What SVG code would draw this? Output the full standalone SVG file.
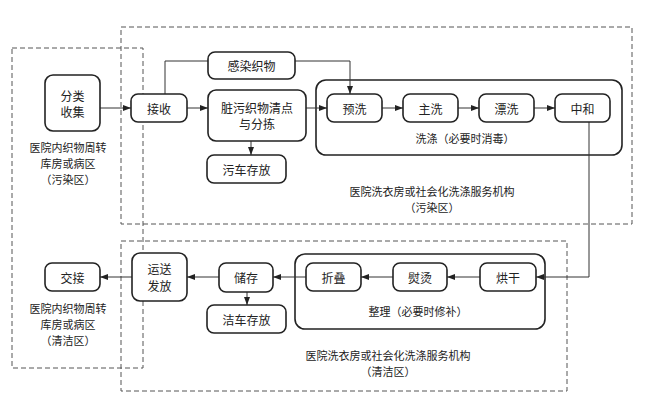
<svg xmlns="http://www.w3.org/2000/svg" width="671" height="420" viewBox="0 0 671 420">
<style>
  .zone{fill:none;stroke:#555;stroke-width:1;stroke-dasharray:5,3}
  .node{fill:#fff;stroke:#222;stroke-width:1.6}
  .grp{fill:none;stroke:#222;stroke-width:1.6}
  .t{font-family:"Noto Sans CJK SC","Noto Sans CJK TC",sans-serif;font-size:11px;fill:#222;text-anchor:middle;dominant-baseline:central}
  .n{font-size:12px}
  .c{fill:none;stroke:#333;stroke-width:1}
</style>
<defs>
  <marker id="ah" viewBox="0 0 8 6" refX="8" refY="3" markerWidth="8" markerHeight="6" markerUnits="userSpaceOnUse" orient="auto">
    <path d="M0,0 L8,3 L0,6 Z" fill="#222"/>
  </marker>
</defs>
<rect width="671" height="420" fill="#fff"/>

<g id="zones">
  <rect class="zone" x="12" y="48" width="131" height="320"/>
  <rect class="zone" x="121" y="27" width="511" height="197"/>
  <rect class="zone" x="121" y="241" width="446" height="150"/>
  <text class="t" x="68" y="147">医院内织物周转</text>
  <text class="t" x="68" y="163">库房或病区</text>
  <text class="t" x="68" y="179">（污染区）</text>
  <text class="t" x="68" y="308">医院内织物周转</text>
  <text class="t" x="68" y="324">库房或病区</text>
  <text class="t" x="68" y="340">（清洁区）</text>
  <text class="t" x="432" y="191">医院洗衣房或社会化洗涤服务机构</text>
  <text class="t" x="432" y="207">（污染区）</text>
  <text class="t" x="388" y="355">医院洗衣房或社会化洗涤服务机构</text>
  <text class="t" x="388" y="371">（清洁区）</text>
</g>

<g id="wash">
  <rect class="grp" x="316" y="80" width="306" height="75" rx="10"/>
  <text class="t" x="465" y="138">洗涤（必要时消毒）</text>
</g>
<g id="finish">
  <rect class="grp" x="295" y="254" width="250" height="75" rx="10"/>
  <text class="t" x="418" y="311">整理（必要时修补）</text>
</g>

<g id="connectors">
  <path class="c" d="M100,108 H131" marker-end="url(#ah)"/>
  <path class="c" d="M187,108 H208" marker-end="url(#ah)"/>
  <path class="c" d="M165,94 V61 H208"/>
  <path class="c" d="M295,61 H350 V94" marker-end="url(#ah)"/>
  <path class="c" d="M306,108 H327" marker-end="url(#ah)"/>
  <path class="c" d="M382,108 H403" marker-end="url(#ah)"/>
  <path class="c" d="M458,108 H479" marker-end="url(#ah)"/>
  <path class="c" d="M534,108 H555" marker-end="url(#ah)"/>
  <path class="c" d="M251,141 V155" marker-end="url(#ah)"/>
  <path class="c" d="M589,122 V277 H536" marker-end="url(#ah)"/>
  <path class="c" d="M480,277 H447" marker-end="url(#ah)"/>
  <path class="c" d="M393,277 H361" marker-end="url(#ah)"/>
  <path class="c" d="M306,277 H273" marker-end="url(#ah)"/>
  <path class="c" d="M219,277 H187" marker-end="url(#ah)"/>
  <path class="c" d="M132,277 H100" marker-end="url(#ah)"/>
  <path class="c" d="M247,292 V305" marker-end="url(#ah)"/>
</g>

<g id="n-fenlei"><rect class="node" x="45" y="75" width="55" height="56" rx="8"/><text class="t n" x="72.5" y="95">分类</text><text class="t n" x="72.5" y="111">收集</text></g>
<g id="n-jieshou"><rect class="node" x="131" y="94" width="56" height="28" rx="7"/><text class="t n" x="159" y="108">接收</text></g>
<g id="n-ganran"><rect class="node" x="208" y="52" width="87" height="27" rx="7"/><text class="t n" x="251.5" y="65.5">感染织物</text></g>
<g id="n-zangwu"><rect class="node" x="208" y="90" width="98" height="51" rx="8"/><text class="t n" x="257" y="107">脏污织物清点</text><text class="t n" x="257" y="123">与分拣</text></g>
<g id="n-wuche"><rect class="node" x="207" y="155" width="79" height="28" rx="7"/><text class="t n" x="246.5" y="169">污车存放</text></g>
<g id="n-yuxi"><rect class="node" x="327" y="94" width="55" height="28" rx="7"/><text class="t n" x="354.5" y="108">预洗</text></g>
<g id="n-zhuxi"><rect class="node" x="403" y="94" width="55" height="28" rx="7"/><text class="t n" x="430.5" y="108">主洗</text></g>
<g id="n-piaoxi"><rect class="node" x="479" y="94" width="55" height="28" rx="7"/><text class="t n" x="506.5" y="108">漂洗</text></g>
<g id="n-zhonghe"><rect class="node" x="555" y="94" width="55" height="28" rx="7"/><text class="t n" x="582.5" y="108">中和</text></g>
<g id="n-honggan"><rect class="node" x="480" y="263" width="56" height="28" rx="7"/><text class="t n" x="508" y="277">烘干</text></g>
<g id="n-yuntang"><rect class="node" x="393" y="263" width="54" height="28" rx="7"/><text class="t n" x="420" y="277">熨烫</text></g>
<g id="n-zhedie"><rect class="node" x="306" y="263" width="55" height="28" rx="7"/><text class="t n" x="333.5" y="277">折叠</text></g>
<g id="n-chucun"><rect class="node" x="219" y="263" width="54" height="29" rx="7"/><text class="t n" x="246" y="277">储存</text></g>
<g id="n-jieche"><rect class="node" x="207" y="305" width="79" height="28" rx="7"/><text class="t n" x="246.5" y="319">洁车存放</text></g>
<g id="n-yunsong"><rect class="node" x="132" y="253" width="55" height="48" rx="8"/><text class="t n" x="159.5" y="268">运送</text><text class="t n" x="159.5" y="285">发放</text></g>
<g id="n-jiaojie"><rect class="node" x="45" y="263" width="55" height="28" rx="7"/><text class="t n" x="72.5" y="277">交接</text></g>
</svg>
